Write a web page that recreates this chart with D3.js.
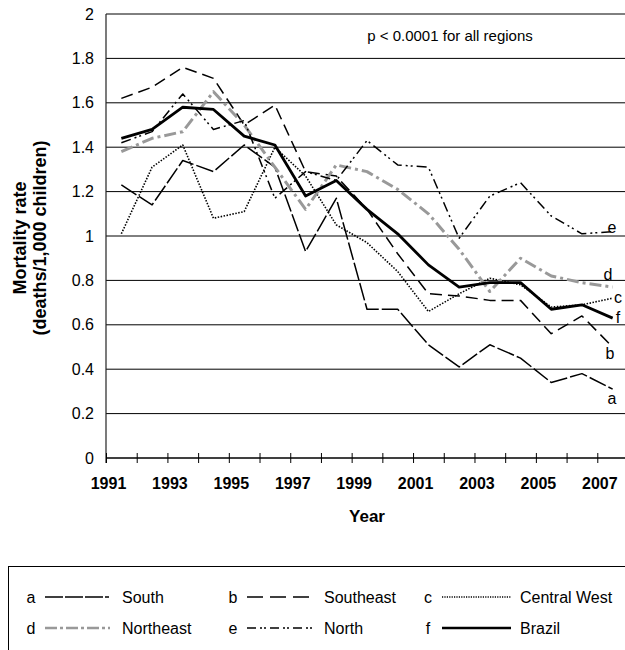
<!DOCTYPE html>
<html>
<head>
<meta charset="utf-8">
<script src="https://cdn.jsdelivr.net/npm/d3@7"></script>
<style>
  body { margin: 0; background: #fff; }
  svg { font-family: "Liberation Sans", Arial, sans-serif; }
</style>
</head>
<body>
<div id="chart"></div>
<script>
// Under-5 mortality rate by region, Brazil 1991-2007

const years = d3.range(1991, 2008);
const yTicks = [0, 0.2, 0.4, 0.6, 0.8, 1, 1.2, 1.4, 1.6, 1.8, 2];

const south       = [1.23, 1.14, 1.34, 1.29, 1.41, 1.31, 0.93, 1.17, 0.67, 0.67, 0.51, 0.41, 0.51, 0.45, 0.34, 0.38, 0.31];
const southeast   = [1.62, 1.67, 1.76, 1.71, 1.50, 1.59, 1.29, 1.27, 1.12, 0.92, 0.74, 0.73, 0.71, 0.71, 0.56, 0.64, 0.50];
const centralWest = [1.01, 1.31, 1.41, 1.08, 1.11, 1.40, 1.27, 1.05, 0.97, 0.84, 0.66, 0.74, 0.81, 0.78, 0.68, 0.69, 0.72];
const northeast   = [1.38, 1.44, 1.47, 1.65, 1.50, 1.31, 1.12, 1.32, 1.29, 1.21, 1.10, 0.94, 0.75, 0.90, 0.82, 0.79, 0.77];
const north       = [1.42, 1.47, 1.64, 1.48, 1.52, 1.17, 1.29, 1.25, 1.43, 1.32, 1.31, 0.99, 1.18, 1.24, 1.09, 1.01, 1.02];
const brazil      = [1.44, 1.48, 1.58, 1.57, 1.45, 1.41, 1.18, 1.25, 1.12, 1.01, 0.87, 0.77, 0.79, 0.79, 0.67, 0.69, 0.63];

const series = [
  { key: 'a', name: 'South',        values: south,       color: '#000', width: 1.5, dash: '18,3' },
  { key: 'b', name: 'Southeast',    values: southeast,   color: '#000', width: 1.5, dash: '12,6' },
  { key: 'c', name: 'Central West', values: centralWest, color: '#000', width: 1.6, dash: '1.5,1.5' },
  { key: 'd', name: 'Northeast',    values: northeast,   color: '#999', width: 3,   dash: '12,4,3,4' },
  { key: 'e', name: 'North',        values: north,       color: '#000', width: 1.5, dash: '10,4,2,3,2,4' },
  { key: 'f', name: 'Brazil',       values: brazil,      color: '#000', width: 2.8, dash: null }
];

// end-of-line letters
const endLabelPos = { a: [612, 398], b: [610, 353], c: [618, 297], d: [608, 274], e: [612, 227], f: [618, 317] };

const width = 625, height = 650;
const svg = d3.select('#chart').append('svg')
  .attr('width', width)
  .attr('height', height);

const x = d3.scaleLinear().domain([1991, 2008]).range([106, 628]);
const y = d3.scaleLinear().domain([0, 2]).range([458, 14]);

// gridlines
svg.append('g')
  .selectAll('line')
  .data(yTicks)
  .enter()
  .append('line')
  .attr('x1', x(1991))
  .attr('x2', x(2008))
  .attr('y1', d => y(d))
  .attr('y2', d => y(d))
  .attr('stroke', '#000')
  .attr('stroke-width', 1);

// y axis
const yAxis = svg.append('g')
  .attr('transform', `translate(${x(1991)},0)`)
  .call(d3.axisLeft(y).tickValues(yTicks).tickSize(0).tickPadding(12).tickFormat(d3.format('~g')));
yAxis.select('.domain').remove();
yAxis.selectAll('text').attr('font-size', 16).attr('fill', '#000').style('font-family', '"Liberation Sans", Arial, sans-serif');
svg.append('line')
  .attr('x1', x(1991)).attr('x2', x(1991))
  .attr('y1', y(2)).attr('y2', y(0) + 5)
  .attr('stroke', '#222').attr('stroke-width', 1.2);

// x axis
const xAxis = svg.append('g')
  .attr('transform', `translate(0,${y(0)})`)
  .call(d3.axisBottom(x).tickValues(years).tickSize(5).tickPadding(15)
    .tickFormat(d => (d % 2 === 1 ? d : '')));
xAxis.select('.domain').attr('stroke', '#000').attr('d', `M${x(1991)},0H${x(2008)}`);
xAxis.selectAll('.tick line').attr('y1', -5).attr('y2', 5).attr('stroke', '#000');
xAxis.selectAll('text')
  .attr('font-size', 16).attr('font-weight', 'bold').attr('fill', '#000').attr('dx', 2)
  .style('font-family', '"Liberation Sans", Arial, sans-serif');

// axis titles
svg.append('text')
  .attr('x', x(1999.5)).attr('y', 522)
  .attr('text-anchor', 'middle').attr('font-size', 17).attr('font-weight', 'bold')
  .text('Year');

const yTitle = svg.append('text')
  .attr('transform', 'translate(0,238) rotate(-90)')
  .attr('text-anchor', 'middle').attr('font-size', 18).attr('font-weight', 'bold');
yTitle.append('tspan').attr('x', 0).attr('y', 26).text('Mortality rate');
yTitle.append('tspan').attr('x', 0).attr('y', 46).text('(deaths/1,000 children)');

// annotation
svg.append('text')
  .attr('x', 450).attr('y', 41)
  .attr('text-anchor', 'middle').attr('font-size', 15)
  .text('p < 0.0001 for all regions');

// lines
const line = d3.line()
  .x((d, i) => x(years[i] + 0.5))
  .y(d => y(d));

svg.append('g')
  .selectAll('path')
  .data(series)
  .enter()
  .append('path')
  .attr('d', d => line(d.values))
  .attr('fill', 'none')
  .attr('stroke', d => d.color)
  .attr('stroke-width', d => d.width)
  .attr('stroke-dasharray', d => d.dash)
  .attr('stroke-linejoin', 'round');

svg.append('g')
  .selectAll('text')
  .data(series)
  .enter()
  .append('text')
  .attr('x', d => endLabelPos[d.key][0])
  .attr('y', d => endLabelPos[d.key][1])
  .attr('dy', '0.35em')
  .attr('text-anchor', 'middle')
  .attr('font-size', 16)
  .text(d => d.key);

// legend
svg.append('rect')
  .attr('x', 8.5).attr('y', 566.5)
  .attr('width', 640).attr('height', 120)
  .attr('fill', 'none').attr('stroke', '#000').attr('stroke-width', 1);

const legendCols = [26, 228, 423];
const legendDash = { a: '18,2,18,2,18,2,4', b: '16,7', c: '1.2,1.2', d: '12,3,3,3', e: '9,4,2,2,2,4', f: null };

const legend = svg.append('g')
  .selectAll('g')
  .data(series)
  .enter()
  .append('g')
  .attr('transform', (d, i) => `translate(${legendCols[i % 3]},${i < 3 ? 597 : 628})`);

legend.append('text')
  .attr('x', 5).attr('dy', '0.35em').attr('text-anchor', 'middle')
  .attr('font-size', 16).text(d => d.key);
legend.append('line')
  .attr('x1', 19).attr('x2', (d, i) => (i % 3 === 2 ? 88 : 84))
  .attr('stroke', d => d.color)
  .attr('stroke-width', d => Math.min(d.width, 2.4))
  .attr('stroke-dasharray', d => legendDash[d.key]);
legend.append('text')
  .attr('x', (d, i) => (i % 3 === 2 ? 97 : 96)).attr('dy', '0.35em')
  .attr('font-size', 16).text(d => d.name);
</script>
</body>
</html>
